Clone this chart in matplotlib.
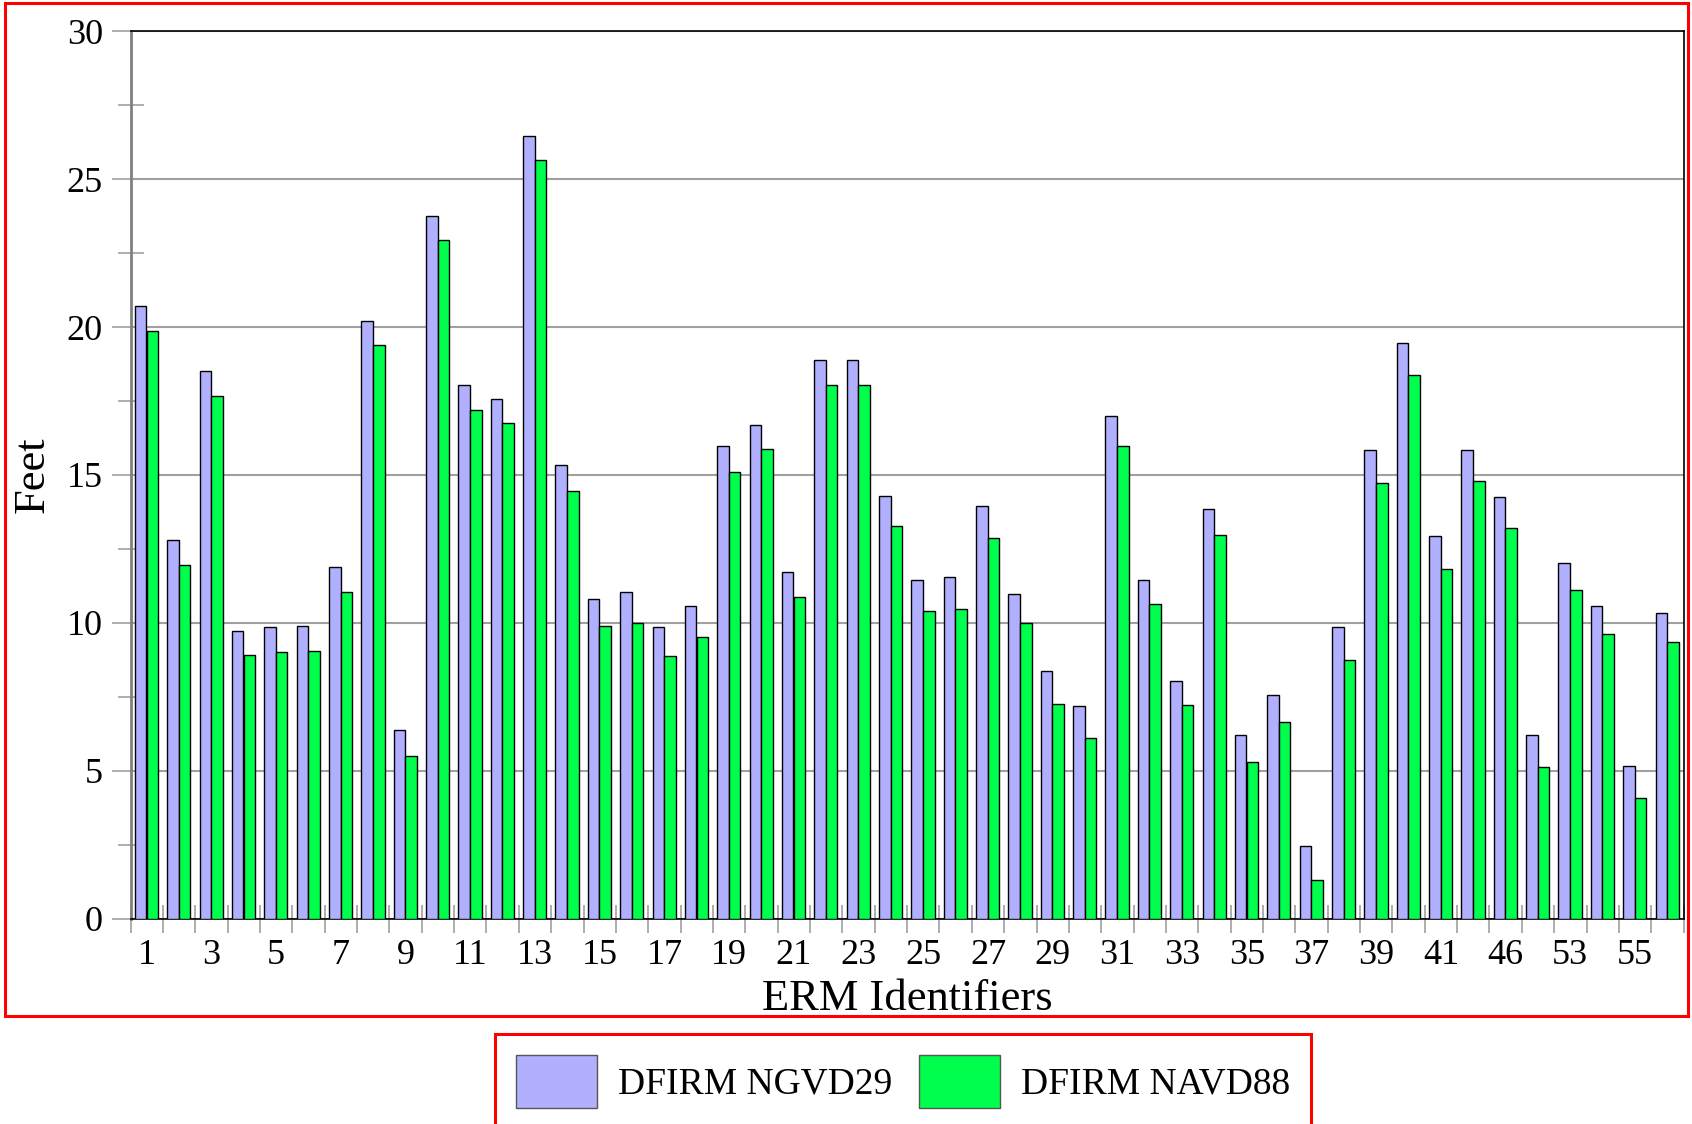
import matplotlib
matplotlib.use("Agg")
import matplotlib.pyplot as plt
import numpy as np
from matplotlib.patches import Patch, Rectangle
from matplotlib.ticker import FixedLocator, MultipleLocator

plt.rcParams['font.family'] = ['Liberation Serif', 'DejaVu Serif']

# ERM identifiers (only every other one is printed on the axis)
erm_ids = [str(i) for i in range(1, 42)] + ["44", "46", "50", "53", "54", "55", "56"]

ngvd29 = [20.71, 12.79, 18.53, 9.74, 9.85, 9.90, 11.88, 20.21, 6.36, 23.76,
          18.04, 17.57, 26.47, 15.33, 10.79, 11.04, 9.86, 10.58, 15.98, 16.70,
          11.72, 18.87, 18.87, 14.28, 11.46, 11.55, 13.94, 10.99, 8.37, 7.20,
          17.00, 11.44, 8.04, 13.84, 6.20, 7.56, 2.45, 9.86, 15.85, 19.45,
          12.94, 15.86, 14.26, 6.20, 12.03, 10.56, 5.15, 10.33]
navd88 = [19.86, 11.95, 17.67, 8.90, 9.00, 9.05, 11.04, 19.39, 5.50, 22.95,
          17.18, 16.74, 25.64, 14.47, 9.88, 10.01, 8.88, 9.53, 15.11, 15.87,
          10.88, 18.04, 18.04, 13.28, 10.39, 10.47, 12.87, 10.00, 7.25, 6.10,
          15.98, 10.64, 7.21, 12.98, 5.29, 6.65, 1.30, 8.73, 14.74, 18.37,
          11.83, 14.78, 13.19, 5.11, 11.10, 9.62, 4.07, 9.36]

series_names = ["DFIRM NGVD29", "DFIRM NAVD88"]
colors = ["#b0b0ff", "#00ff4c"]

W, H = 1692, 1124
fig = plt.figure(figsize=(W / 100, H / 100), dpi=100)
ax = fig.add_axes([130.6 / W, 1 - 918.6 / H, 1553 / W, 887.3 / H])

x = np.arange(1, len(erm_ids) + 1)
bw = 0.357
ax.bar(x - 0.19, ngvd29, width=bw, color=colors[0], edgecolor="black", linewidth=1.0, zorder=3)
ax.bar(x + 0.17, navd88, width=bw, color=colors[1], edgecolor="black", linewidth=1.0, zorder=3)

ax.set_xlim(0.5, len(erm_ids) + 0.5)
ax.set_ylim(0, 30)

# y axis
ax.yaxis.set_major_locator(MultipleLocator(5))
ax.yaxis.set_minor_locator(MultipleLocator(2.5))
ax.tick_params(axis="y", which="major", direction="out", length=14, width=1.2,
               color="#a0a0a0", labelsize=26, pad=6)
ax.tick_params(axis="y", which="minor", direction="inout", length=19, width=1.2,
               color="#a0a0a0")
ax.grid(axis="y", which="major", color="#a0a0a0", linewidth=1.5, zorder=0)

# x axis: labels at every other group, tick marks at group boundaries
ax.set_xticks(x[::2])
ax.set_xticklabels(erm_ids[::2])
ax.xaxis.set_minor_locator(FixedLocator(np.arange(0.5, len(erm_ids) + 1, 1)))
ax.tick_params(axis="x", which="major", length=0, labelsize=26, pad=15)
ax.tick_params(axis="x", which="minor", direction="inout", length=20, width=1.2,
               color="#a0a0a0")

ax.spines["left"].set_color("#808080")
ax.spines["left"].set_linewidth(2.0)
for s in ["top", "right", "bottom"]:
    ax.spines[s].set_color("black")
    ax.spines[s].set_linewidth(1.2)

ax.set_xlabel("ERM Identifiers", fontsize=32, labelpad=5)
ax.set_ylabel("Feet", fontsize=32, labelpad=10)

# red frame round the chart area
fig.patches.append(Rectangle((5.4 / W, 1 - 1016 / H), (W - 4) / W - 5.4 / W, (1016 - 3.2) / H,
                             transform=fig.transFigure, fill=False, edgecolor="red",
                             linewidth=2.2, zorder=10))

handles = [Patch(facecolor=c, edgecolor="#555555", linewidth=1.0) for c in colors]
leg = fig.legend(handles, series_names, loc="upper center", ncol=2,
                 bbox_to_anchor=(903 / W, 1 - 1034 / H), fontsize=27,
                 handlelength=2.16, handleheight=1.81, handletextpad=0.57,
                 columnspacing=0.7, borderpad=0.55, borderaxespad=0,
                 fancybox=False, edgecolor="red", framealpha=1)
leg.get_frame().set_linewidth(2.2)

fig.savefig("out.png", dpi=100)
